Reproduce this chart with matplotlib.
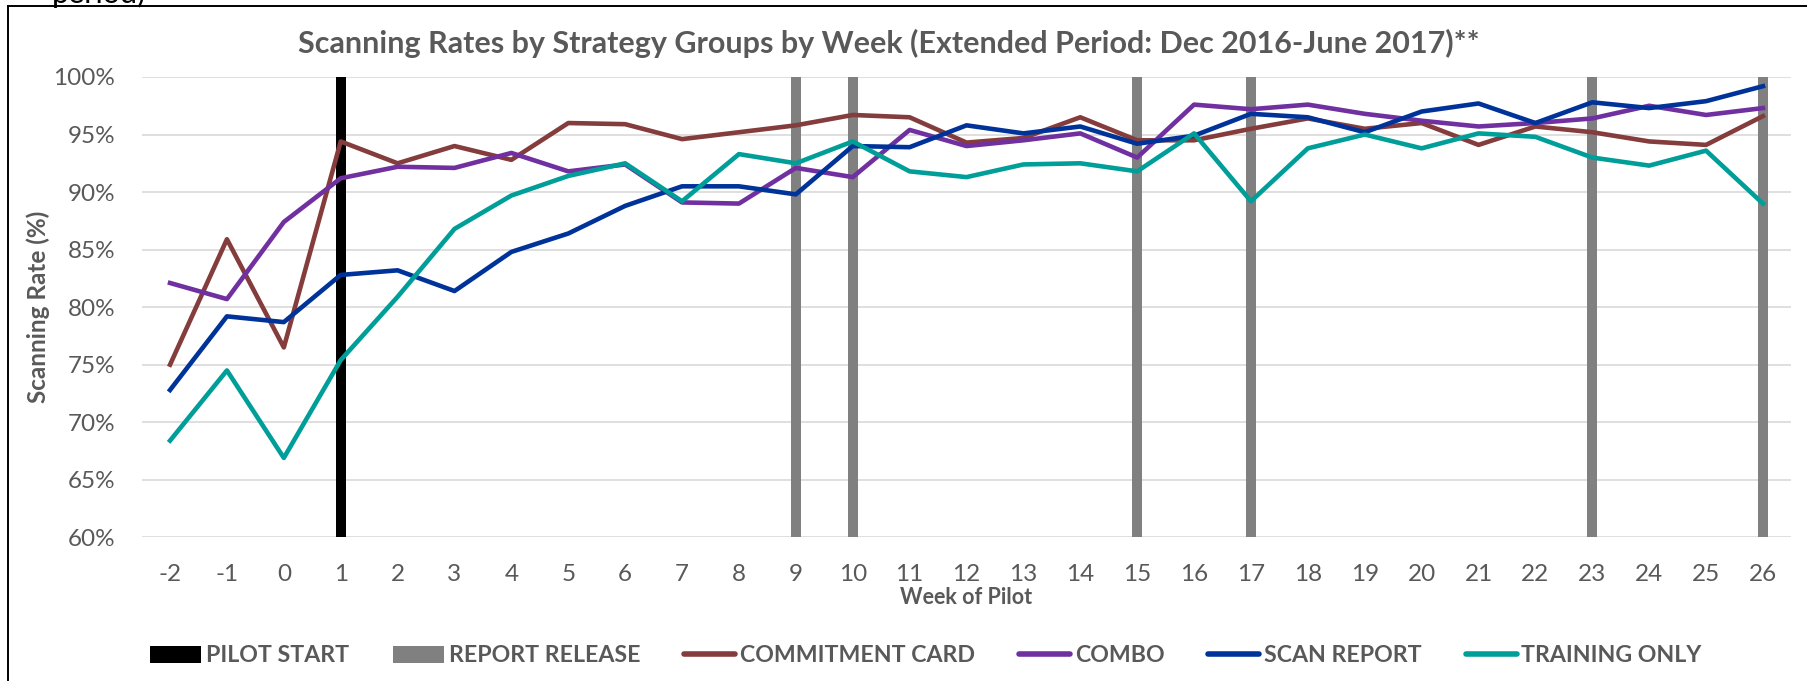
import matplotlib
matplotlib.use("Agg")
import matplotlib.pyplot as plt
from matplotlib.lines import Line2D
from matplotlib.patches import Patch
from matplotlib.ticker import FuncFormatter

plt.rcParams['font.family'] = ['Lato', 'DejaVu Sans']

weeks = list(range(-2, 27))
commitment_card = [75.0, 85.9, 76.5, 94.4, 92.5, 94.0, 92.8, 96.0, 95.9, 94.6,
                   95.2, 95.8, 96.7, 96.5, 94.3, 94.7, 96.5, 94.5, 94.5, 95.5,
                   96.4, 95.5, 96.0, 94.1, 95.7, 95.2, 94.4, 94.1, 96.6]
combo = [82.1, 80.7, 87.4, 91.2, 92.2, 92.1, 93.4, 91.8, 92.4, 89.1,
         89.0, 92.1, 91.3, 95.4, 94.0, 94.5, 95.1, 93.0, 97.6, 97.2,
         97.6, 96.8, 96.2, 95.7, 96.0, 96.4, 97.5, 96.7, 97.3]
scan_report = [72.8, 79.2, 78.7, 82.8, 83.2, 81.4, 84.8, 86.4, 88.8, 90.5,
               90.5, 89.8, 94.0, 93.9, 95.8, 95.1, 95.7, 94.2, 94.9, 96.8,
               96.5, 95.2, 97.0, 97.7, 96.0, 97.8, 97.3, 97.9, 99.2]
training_only = [68.4, 74.5, 66.9, 75.4, 80.9, 86.8, 89.7, 91.4, 92.5, 89.2,
                 93.3, 92.5, 94.4, 91.8, 91.3, 92.4, 92.5, 91.8, 95.1, 89.2,
                 93.8, 95.0, 93.8, 95.1, 94.8, 93.0, 92.3, 93.6, 89.0]
pilot_start_weeks = [1]
report_release_weeks = [9, 10, 15, 17, 23, 26]
marker_top = 100
y_ticks = [60, 65, 70, 75, 80, 85, 90, 95, 100]

title = "Scanning Rates by Strategy Groups by Week (Extended Period: Dec 2016-June 2017)**"
series = [("COMMITMENT CARD", commitment_card, "#843C3C"),
          ("COMBO", combo, "#7030A0"),
          ("SCAN REPORT", scan_report, "#003399"),
          ("TRAINING ONLY", training_only, "#009E99")]

W, H = 1808, 681
fig = plt.figure(figsize=(W / 100, H / 100), dpi=100)
ax = fig.add_axes([141.6 / W, 1 - 537.3 / H, (1791.4 - 141.6) / W, (537.3 - 77.0) / H])

txt = "#595959"
ax.set_xlim(-2.5, 26.5)
ax.set_ylim(60, 100)
ax.set_yticks(y_ticks)
ax.yaxis.set_major_formatter(FuncFormatter(lambda v, p: f"{v:.0f}%"))
ax.set_xticks(weeks)
ax.set_xticklabels([str(w) for w in weeks])
ax.grid(axis='y', color="#D9D9D9", linewidth=1.2, zorder=0)
ax.set_axisbelow(True)
for s in ax.spines.values():
    s.set_visible(False)
ax.tick_params(axis='both', length=0, labelsize=17.5, colors=txt)
ax.tick_params(axis='x', pad=19)
ax.tick_params(axis='y', pad=19)

bw = 0.18
ax.bar(pilot_start_weeks, [marker_top - 60] * len(pilot_start_weeks), bottom=60,
       width=bw, color="#000000", zorder=2)
ax.bar(report_release_weeks, [marker_top - 60] * len(report_release_weeks), bottom=60,
       width=bw, color="#808080", zorder=2)

for name, vals, col in series:
    ax.plot(weeks, vals, color=col, linewidth=3.3, zorder=3, solid_joinstyle='round')

fig.text(889 / W, 1 - 43 / H, title, ha='center', va='center', fontsize=22,
         fontweight='bold', color=txt)
fig.text(966 / W, 1 - 598 / H, "Week of Pilot", ha='center', va='center', fontsize=15.5,
         fontweight='bold', color=txt)
fig.text(38 / W, 1 - 307 / H, "Scanning Rate (%)", ha='center', va='center', fontsize=17.5,
         fontweight='bold', color=txt, rotation=90)

handles = [Patch(facecolor="#000000", edgecolor="none", label="PILOT START"),
           Patch(facecolor="#808080", edgecolor="none", label="REPORT RELEASE")]
for name, vals, col in series:
    handles.append(Line2D([0], [0], color=col, linewidth=4.0, solid_capstyle='round', label=name))
leg = fig.legend(handles=handles, loc='center', bbox_to_anchor=(926 / W, 1 - 656 / H),
                 ncol=6, frameon=False, fontsize=16.7, handlelength=2.2, handleheight=0.75,
                 handletextpad=0.2, columnspacing=1.9)
for t in leg.get_texts():
    t.set_color(txt)
    t.set_fontweight('bold')

# frame of the surrounding box and clipped text above it
fig.add_artist(Line2D([8 / W, 8 / W], [0, 1 - 6 / H], color='black', linewidth=1.4,
                      transform=fig.transFigure))
fig.add_artist(Line2D([8 / W, 1], [1 - 6 / H, 1 - 6 / H], color='black', linewidth=1.4,
                      transform=fig.transFigure))
fig.text(52 / W, 1 - 3 / H, "period)", ha='left', va='baseline', fontsize=22, color='black')

fig.savefig("out.png", dpi=100, facecolor='white')
